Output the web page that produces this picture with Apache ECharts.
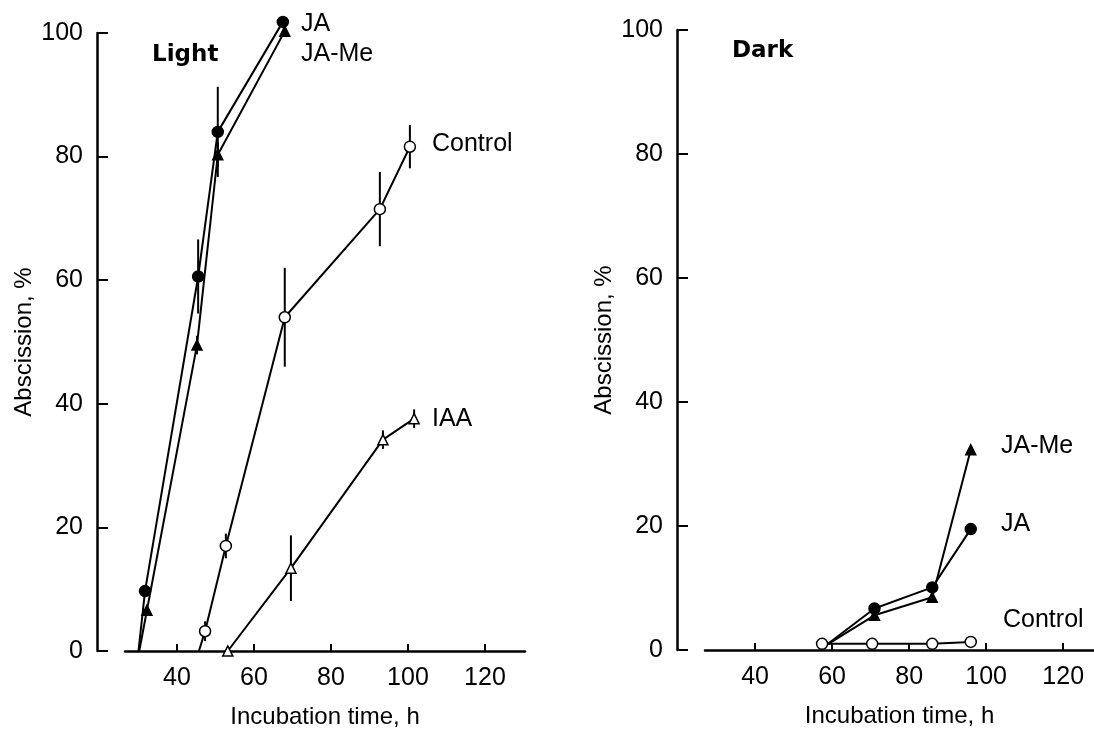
<!DOCTYPE html>
<html lang="en">
<head>
    <meta charset="UTF-8">
    <title>Abscission</title>
    <script src="https://cdn.jsdelivr.net/npm/echarts@6/dist/echarts.min.js"></script>
    <style>
        html, body { margin: 0; padding: 0; background: #fff; }
        #chart { width: 1094px; height: 734px; }
    </style>
</head>
<body>
<div id="chart"></div>
<script type="text/javascript">
    // tick values shown on the axes
    var xTicks = [40, 60, 80, 100, 120];
    var yTicks = [0, 20, 40, 60, 80, 100];

    // Light panel
    var lightJAx = [30, 31.7, 45.5, 50.6, 67.5];
    var lightJAy = [0, 9.7, 60.6, 84, 101.8];
    var lightJAerr = [0, 0, 6, 7.3, 0];

    var lightJAMeX = [30.2, 32.2, 45.2, 50.6, 68];
    var lightJAMeY = [0, 6.6, 49.5, 80.3, 100.3];
    var lightJAMeErr = [0, 0, 1.5, 2, 0];

    var lightCtrlX = [45.7, 47.3, 52.7, 68, 92.7, 100.5];
    var lightCtrlY = [0, 3.2, 17, 54, 71.5, 81.6];
    var lightCtrlErr = [0, 1.6, 2, 8, 6, 3.5];

    var lightIAAx = [53.2, 69.6, 93.5, 101.6];
    var lightIAAy = [0, 13.4, 34.2, 37.6];
    var lightIAAerr = [0, 5.3, 1.5, 1.5];

    // Dark panel
    var darkJAx = [58.5, 71, 86, 96];
    var darkJAy = [0.8, 6.7, 10.1, 19.5];

    var darkJAMeX = [58.5, 71, 86, 96];
    var darkJAMeY = [0.8, 5.6, 8.5, 32.3];

    var darkCtrlX = [57.4, 70.4, 86, 96];
    var darkCtrlY = [1, 1, 1, 1.3];

    var font = 'Liberation Sans, Arial, sans-serif';

    function pts(xs, ys, hideFirst) {
        return xs.map(function (x, i) {
            var item = {value: [x, ys[i]]};
            if (hideFirst && i === 0) item.symbol = 'none';
            return item;
        });
    }

    function errs(xs, ys, es) {
        var out = [];
        xs.forEach(function (x, i) {
            if (es[i] > 0) out.push([x, ys[i] - es[i], ys[i] + es[i]]);
        });
        return out;
    }

    function lineSeries(idx, xs, ys, symbol, size, filled, hideFirst) {
        return {
            type: 'line',
            xAxisIndex: idx,
            yAxisIndex: idx,
            data: pts(xs, ys, hideFirst),
            symbol: symbol,
            symbolSize: size,
            clip: false,
            z: 3,
            lineStyle: {color: '#000', width: 2},
            itemStyle: {color: filled ? '#000' : '#fff', borderColor: '#000', borderWidth: 1.5},
            animation: false
        };
    }

    function errSeries(idx, data) {
        return {
            type: 'custom',
            xAxisIndex: idx,
            yAxisIndex: idx,
            data: data,
            z: 2,
            clip: false,
            renderItem: function (params, api) {
                var a = api.coord([api.value(0), api.value(1)]);
                var b = api.coord([api.value(0), api.value(2)]);
                return {
                    type: 'line',
                    shape: {x1: a[0], y1: a[1], x2: b[0], y2: b[1]},
                    style: {stroke: '#000', lineWidth: 2}
                };
            },
            animation: false
        };
    }

    function xAxis(idx, min, max) {
        return {
            type: 'value',
            gridIndex: idx,
            min: min,
            max: max,
            name: 'Incubation time, h',
            nameLocation: 'middle',
            nameGap: 54,
            nameTextStyle: {color: '#000', fontSize: 24, fontFamily: font},
            splitLine: {show: false},
            axisLine: {show: true, onZero: false, lineStyle: {color: '#000', width: 2.5}},
            axisTick: {show: true, inside: true, length: 7, customValues: xTicks, lineStyle: {color: '#000', width: 2}},
            axisLabel: {customValues: xTicks, margin: 15, color: '#000', fontSize: 25, fontFamily: font}
        };
    }

    function yAxis(idx) {
        return {
            type: 'value',
            gridIndex: idx,
            min: 0,
            max: 100,
            interval: 20,
            offset: 28,
            name: 'Abscission, %',
            nameLocation: 'middle',
            nameRotate: 90,
            nameGap: 61,
            nameTextStyle: {color: '#000', fontSize: 24, fontFamily: font},
            splitLine: {show: false},
            axisLine: {show: true, lineStyle: {color: '#000', width: 2.5}},
            axisTick: {show: true, inside: true, length: 11, lineStyle: {color: '#000', width: 2}},
            axisLabel: {margin: 14, color: '#000', fontSize: 25, fontFamily: font}
        };
    }

    function txt(x, y, s, bold) {
        return {
            type: 'text',
            left: x,
            top: y,
            style: {
                text: s,
                fill: '#000',
                font: bold ? 'bold 23px "DejaVu Sans"' : '25px ' + font,
                textVerticalAlign: 'middle'
            }
        };
    }

    var chart = echarts.init(document.getElementById('chart'));
    var option = {
        backgroundColor: '#fff',
        animation: false,
        grid: [
            {left: 125, top: 33, width: 400, height: 620},
            {left: 705, top: 30, width: 389, height: 620}
        ],
        xAxis: [xAxis(0, 26.5, 130.4), xAxis(1, 27, 128)],
        yAxis: [yAxis(0), yAxis(1)],
        graphic: [
            txt(152, 44, 'Light', true),
            txt(732, 40, 'Dark', true),
            txt(301, 12, 'JA'),
            txt(301, 42, 'JA-Me'),
            txt(432, 132, 'Control'),
            txt(432, 407, 'IAA'),
            txt(1001, 434, 'JA-Me'),
            txt(1001, 512, 'JA'),
            txt(1003, 608, 'Control')
        ],
        series: [
            errSeries(0, errs(lightJAx, lightJAy, lightJAerr)),
            errSeries(0, errs(lightJAMeX, lightJAMeY, lightJAMeErr)),
            errSeries(0, errs(lightCtrlX, lightCtrlY, lightCtrlErr)),
            errSeries(0, errs(lightIAAx, lightIAAy, lightIAAerr)),
            lineSeries(0, lightJAx, lightJAy, 'circle', 11, true, true),
            lineSeries(0, lightJAMeX, lightJAMeY, 'triangle', 10, true, true),
            lineSeries(0, lightCtrlX, lightCtrlY, 'circle', 11, false, true),
            lineSeries(0, lightIAAx, lightIAAy, 'triangle', 10, false, false),
            lineSeries(1, darkCtrlX, darkCtrlY, 'circle', 11, false, false),
            lineSeries(1, darkJAx, darkJAy, 'circle', 11, true, true),
            lineSeries(1, darkJAMeX, darkJAMeY, 'triangle', 10, true, true)
        ]
    };
    chart.setOption(option);
</script>
</body>
</html>
